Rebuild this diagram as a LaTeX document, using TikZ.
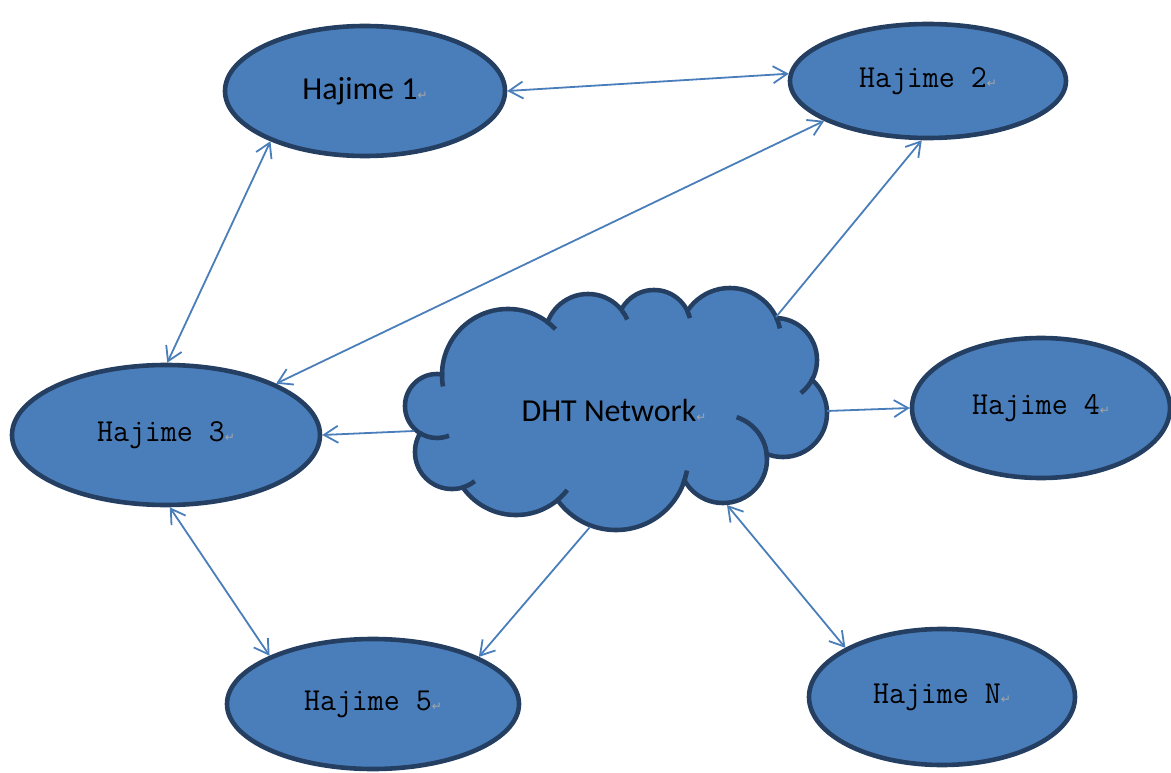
\documentclass[tikz,border=0pt]{standalone}
\usepackage{fontspec}
\usetikzlibrary{arrows.meta,shapes.geometric}
\newfontfamily\calfont{Carlito}
\newfontfamily\markfont{DejaVu Sans}
\definecolor{nodeblue}{HTML}{4A7EBB}
\definecolor{edgeblue}{HTML}{243F62}
\definecolor{linkblue}{HTML}{4A7EBB}
\newcommand{\retmark}{{\markfont\fontsize{12}{12}\selectfont\color{gray!70}↵}}
\newcommand{\haj}[1]{\scalebox{0.97}[1]{\addfontfeature{FakeBold=0.4}#1}\retmark}
% puffs of the cloud: x/y/radius
\def\puffs{437/406/32, 452/452/37, 516/450/65, 616/458/72, 723/459/44, 783/413/44,
  775/360/42, 730/339/51, 654/327/37, 588/337/43, 508/375/66}
\begin{document}
\begin{tikzpicture}[x=1pt, y=-1pt,
    peer/.style={ellipse, draw=edgeblue, fill=nodeblue, line width=4.6pt, inner sep=0pt,
      font=\ttfamily\fontsize{32}{34}\selectfont},
    link/.style={draw=linkblue, line width=1.8pt},
    >={Straight Barb[length=14pt,width=17pt]}]
    \useasboundingbox (0,0) rectangle (1171,773);
    % the cloud: dark puffs, then blue puffs and the middle on top
    \foreach \cx/\cy/\r [count=\i] in \puffs {
        \coordinate (p\i) at (\cx,\cy);
        \fill[edgeblue] (\cx,\cy) circle[radius=\r+2.3];
    }
    \fill[nodeblue] (p1) \foreach \i in {2,...,11} {-- (p\i)} -- cycle;
    \foreach \cx/\cy/\r in \puffs
        \fill[nodeblue] (\cx,\cy) circle[radius=\r-2.3];
    % little inner strokes where two puffs meet
    \foreach \cx/\cy/\r/\a/\b in {437/406/32/122/68, 452/452/37/74/52, 516/450/65/50/38,
        616/458/72/22/10, 723/459/44/-2/-72, 775/360/42/25/52, 730/339/51/-24/-12,
        654/327/37/-27/-14, 588/337/43/-37/-24, 508/375/66/-54/-44, 508/375/66/183/170}
        \draw[edgeblue, line width=4.6pt] (\cx,\cy) ++(\a:\r) arc[start angle=\a, end angle=\b, radius=\r];
    \node[font=\calfont\fontsize{32}{34}\selectfont] (dht) at (614,411) {DHT Network\retmark};
    % where the links leave the cloud
    \coordinate (dht-ne) at (776,317);
    \coordinate (dht-e) at (827,411);
    \coordinate (dht-w) at (414,431);
    \coordinate (dht-s) at (590,527);
    \coordinate (dht-se) at (727,505);
    % the peers
    \node[peer, minimum width=280pt, minimum height=130pt, font=\calfont\fontsize{32}{34}\selectfont] (h1) at (365,91) {Hajime 1\retmark};
    \node[peer, minimum width=276pt, minimum height=114pt] (h2) at (928,81) {\haj{Hajime 2}};
    \node[peer, minimum width=308pt, minimum height=140pt] (h3) at (166,435) {\haj{Hajime 3}};
    \node[peer, minimum width=258pt, minimum height=140pt] (h4) at (1041,408) {\haj{Hajime 4}};
    \node[peer, minimum width=292pt, minimum height=130pt] (h5) at (373,704) {\haj{Hajime 5}};
    \node[peer, minimum width=266pt, minimum height=136pt] (hn) at (942,697) {\haj{Hajime N}};
    % links between peers
    \draw[link, <->] (h1.east) -- (h2.177);
    \draw[link, <->] (h3.25) -- (h2.201);
    \draw[link, <->] (h1.208) -- (h3.89);
    \draw[link, <->] (h3.273) -- (h5.155);
    % links from the cloud
    \draw[link, ->] (dht-ne) -- (h2.264);
    \draw[link, ->] (dht-e) -- (h4.west);
    \draw[link, ->] (dht-w) -- (h3.east);
    \draw[link, ->] (dht-s) -- (h5.24);
    \draw[link, <->] (dht-se) -- (hn.153);
\end{tikzpicture}
\end{document}
